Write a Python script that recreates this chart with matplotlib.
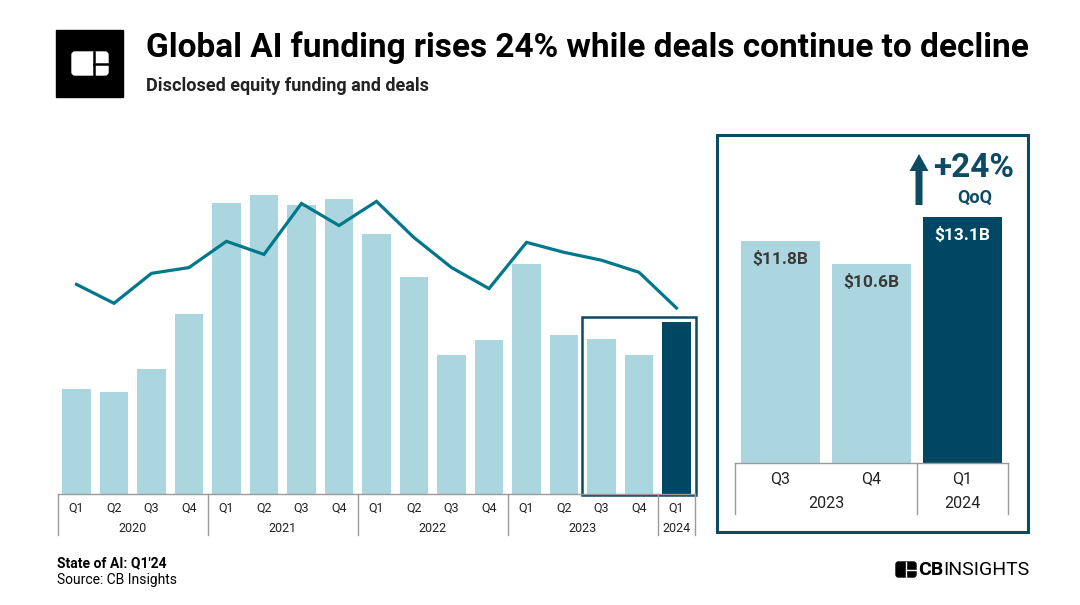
import matplotlib
matplotlib.use("Agg")
import matplotlib.pyplot as plt
from matplotlib.patches import Rectangle, FancyBboxPatch, FancyArrow

plt.rcParams['font.family'] = ['Roboto', 'DejaVu Sans']

# data
quarters = ["Q1", "Q2", "Q3", "Q4"] * 4 + ["Q1"]
years = ["2020", "2021", "2022", "2023", "2024"]
year_spans = [4, 4, 4, 4, 1]
funding = [8.0, 7.8, 9.5, 13.7, 22.2, 22.8, 22.0, 22.5, 19.8, 16.5,
           10.6, 11.7, 17.5, 12.1, 11.8, 10.6, 13.1]
deals = [1995, 1815, 2100, 2155, 2405, 2280, 2765, 2555, 2785, 2440,
         2155, 1955, 2395, 2300, 2225, 2110, 1770]

zoom_quarters = ["Q3", "Q4", "Q1"]
zoom_years = ["2023", "2024"]
zoom_year_spans = [2, 1]
zoom_funding = [11.8, 10.6, 13.1]
zoom_labels = ["$11.8B", "$10.6B", "$13.1B"]

LIGHT = "#acd6df"
DARK = "#004763"
LINE = "#00788a"
BOX = "#0d4a63"
GRID = "#9a9a9a"
TXT = "#222222"

W, H = 1080, 605
fig = plt.figure(figsize=(W / 100, H / 100), dpi=100)


def px_axes(x0, y0, x1, y1, **kw):
    return fig.add_axes([x0 / W, 1 - y1 / H, (x1 - x0) / W, (y1 - y0) / H], **kw)


# overlay in pixel coords for title, logo, box, footer
ov = px_axes(0, 0, W, H)
ov.set_xlim(0, W)
ov.set_ylim(H, 0)
ov.axis("off")

ov.add_patch(Rectangle((56, 30), 67, 67, color="black"))
ov.add_patch(FancyBboxPatch((72, 52), 36, 23, boxstyle="round,pad=0,rounding_size=3",
                            color="white"))
ov.plot([94, 94], [52, 75], color="black", lw=1.8)
ov.plot([94, 108], [63.5, 63.5], color="black", lw=1.8)

ov.text(146, 48, "Global AI funding rises 24% while deals continue to decline",
        fontsize=24, fontweight="bold", color="black", va="center", ha="left")
ov.text(146, 86, "Disclosed equity funding and deals", fontsize=13,
        fontweight="bold", color=TXT, va="center", ha="left")

ov.text(57, 563, "State of AI: Q1'24", fontsize=10, fontweight="bold", color="black",
        va="center", ha="left")
ov.text(57, 580, "Source: CB Insights", fontsize=10, color="black", va="center", ha="left")

# CB Insights logo bottom right
ov.add_patch(FancyBboxPatch((896, 562), 20, 15, boxstyle="round,pad=0,rounding_size=2.5",
                            color="black"))
ov.plot([906, 906], [562, 577], color="white", lw=1.0)
ov.plot([906, 916], [569.5, 569.5], color="white", lw=1.0)
cb = ov.text(918, 570, "CB", fontsize=14, fontweight="bold", color="black",
             va="center", ha="left")
ov.annotate("INSIGHTS", xy=(1, 0.5), xycoords=cb, fontsize=14, color="black",
            va="center", ha="left")

# box around the zoom panel
ov.add_patch(Rectangle((717, 135), 311, 397, fill=False, ec=BOX, lw=2.2))

# arrow +24%
ov.add_patch(FancyArrow(919, 205, 0, -51, width=7, head_width=19, head_length=17,
                        length_includes_head=True, color=BOX, lw=0))
ov.text(974, 168, "+24%", fontsize=24, fontweight="bold", color=BOX,
        va="center", ha="center")
ov.text(975, 198, "QoQ", fontsize=13, fontweight="bold", color=BOX,
        va="center", ha="center")

# main chart
x = list(range(len(funding)))
ax = px_axes(57.75, 140, 695.25, 494)
colors = [LIGHT] * (len(funding) - 1) + [DARK]
ax.bar(x, funding, width=0.77, color=colors, zorder=2)
ax.set_xlim(-0.5, len(funding) - 0.5)
ax.set_ylim(0, 26.96)
ax.axis("off")
ax.add_patch(Rectangle((13.48, -0.05), 3.04, 13.55, fill=False, ec=BOX, lw=1.8,
                       clip_on=False, zorder=3))

ax2 = ax.twinx()
ax2.plot(x, deals, color=LINE, lw=2.3, solid_joinstyle="miter", zorder=4)
ax2.set_ylim(0, 3369)
ax2.set_xlim(-0.5, len(funding) - 0.5)
ax2.axis("off")


def draw_table(tax, qs, ys, spans, top, bottom, qy, yy, size):
    n = len(qs)
    tax.set_xlim(-0.5, n - 0.5)
    tax.set_ylim(bottom, top)
    tax.axis("off")
    tax.plot([-0.5, n - 0.5], [top, top], color=GRID, lw=1.0, clip_on=False)
    for i, q in enumerate(qs):
        tax.text(i, qy, q, fontsize=size, color=TXT, ha="center", va="center")
    start = -0.5
    tax.plot([start, start], [top, bottom], color=GRID, lw=1.0, clip_on=False)
    for yr, sp in zip(ys, spans):
        tax.text(start + sp / 2, yy, yr, fontsize=size, color=TXT, ha="center", va="center")
        start += sp
        tax.plot([start, start], [top, bottom], color=GRID, lw=1.0, clip_on=False)


tab = px_axes(57.75, 494, 695.25, 535)
draw_table(tab, quarters, years, year_spans, 494, 535, 508, 528, 9)

# zoom panel
zx = list(range(len(zoom_funding)))
zax = px_axes(735, 140, 1008, 463)
zax.bar(zx, zoom_funding, width=0.87, color=[LIGHT, LIGHT, DARK])
zax.set_xlim(-0.5, len(zoom_funding) - 0.5)
zax.set_ylim(0, 17.2)
zax.axis("off")
for i, (v, lab) in enumerate(zip(zoom_funding, zoom_labels)):
    c = "white" if i == len(zoom_funding) - 1 else "#3a3a3a"
    zax.annotate(lab, xy=(i, v), xytext=(0, -13), textcoords="offset points",
                 ha="center", va="center", fontsize=12.5, fontweight="bold", color=c)

ztab = px_axes(735, 463, 1008, 514)
draw_table(ztab, zoom_quarters, zoom_years, zoom_year_spans, 463, 514, 479, 504, 11.5)

fig.savefig("out.png", dpi=100)
